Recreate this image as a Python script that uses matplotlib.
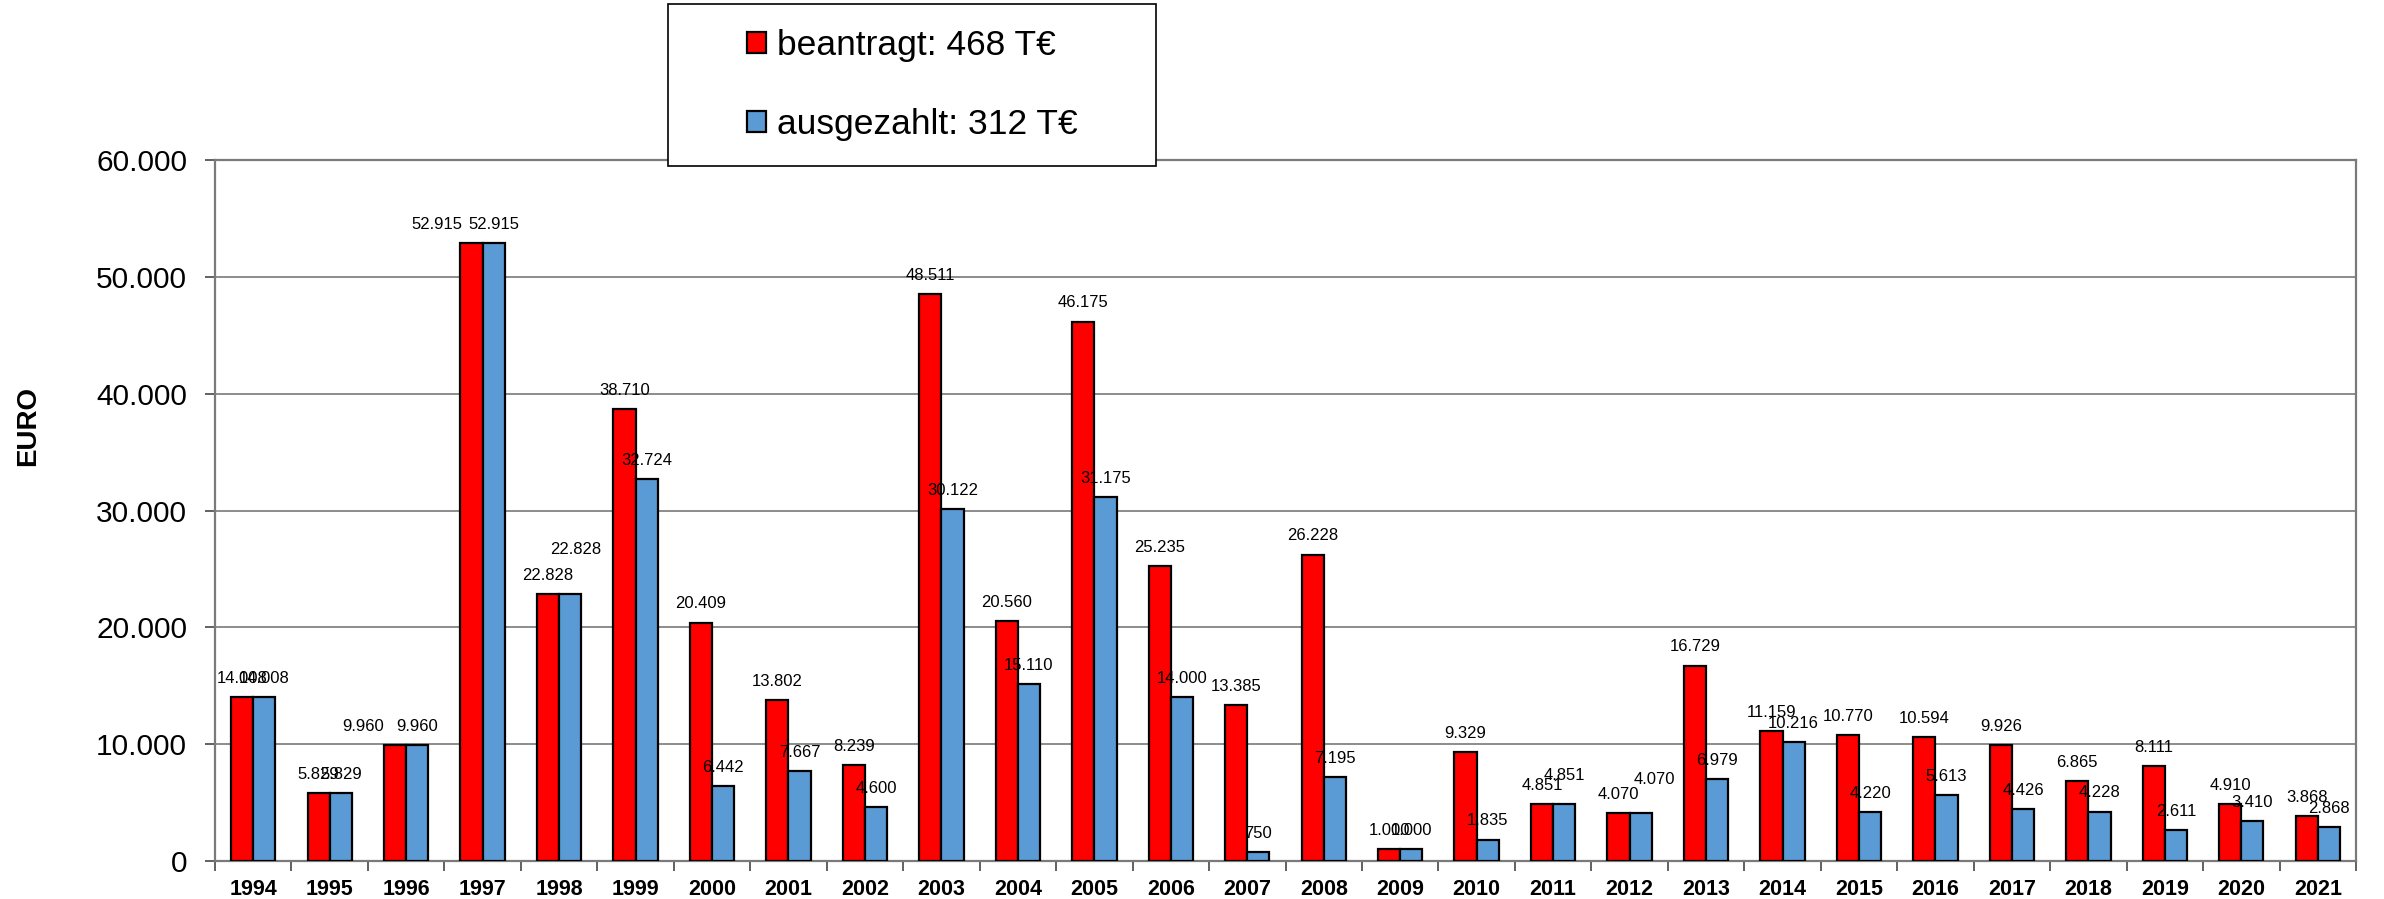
import matplotlib
matplotlib.use("Agg")
import matplotlib.pyplot as plt
from matplotlib.patches import Rectangle
import numpy as np

plt.rcParams['font.family'] = ['Liberation Sans', 'DejaVu Sans']

# data
years = ['1994', '1995', '1996', '1997', '1998', '1999', '2000', '2001', '2002', '2003',
         '2004', '2005', '2006', '2007', '2008', '2009', '2010', '2011', '2012', '2013',
         '2014', '2015', '2016', '2017', '2018', '2019', '2020', '2021']
beantragt = [14008, 5829, 9960, 52915, 22828, 38710, 20409, 13802, 8239, 48511,
             20560, 46175, 25235, 13385, 26228, 1000, 9329, 4851, 4070, 16729,
             11159, 10770, 10594, 9926, 6865, 8111, 4910, 3868]
ausgezahlt = [14008, 5829, 9960, 52915, 22828, 32724, 6442, 7667, 4600, 30122,
              15110, 31175, 14000, 750, 7195, 1000, 1835, 4851, 4070, 6979,
              10216, 4220, 5613, 4426, 4228, 2611, 3410, 2868]
legend_labels = ['beantragt: 468 T€', 'ausgezahlt: 312 T€']

# hand-moved labels in the original (year: (dx, dy) in points)
red_nudge = {'1996': (-23, 0), '1997': (-25, 0)}
blue_nudge = {'1998': (4, 19), '2011': (0, 7), '2012': (10, 11)}

RED = '#ff0000'
BLUE = '#5b9bd5'
GRID = '#6e6e6e'

def fmt(v):
    return f"{v:,}".replace(",", ".")

fig = plt.figure(figsize=(23.84, 8.99), dpi=100)
ax = fig.add_axes([215/2384, 1-861/899, 2141/2384, 701/899])

x = np.arange(len(years))
w = 0.29
b1 = ax.bar(x - w/2, beantragt, w, color=RED, edgecolor='black', linewidth=1.6, zorder=3)
b2 = ax.bar(x + w/2, ausgezahlt, w, color=BLUE, edgecolor='black', linewidth=1.6, zorder=3)

for i, yr in enumerate(years):
    dx, dy = red_nudge.get(yr, (0, 0))
    ax.annotate(fmt(beantragt[i]), (x[i] - w/2, beantragt[i]), xytext=(dx, 8 + dy),
                textcoords='offset points', ha='center', va='bottom', fontsize=12, zorder=5)
    dx, dy = blue_nudge.get(yr, (0, 0))
    ax.annotate(fmt(ausgezahlt[i]), (x[i] + w/2, ausgezahlt[i]), xytext=(dx, 8 + dy),
                textcoords='offset points', ha='center', va='bottom', fontsize=12, zorder=5)

ax.set_xlim(-0.5, len(years) - 0.5)
ax.set_ylim(0, 60000)
ax.set_yticks(np.arange(0, 60001, 10000))
ax.set_yticklabels([fmt(v) for v in range(0, 60001, 10000)], fontsize=21.5)
ax.yaxis.grid(True, color=GRID, linewidth=1.1, zorder=0)
ax.set_axisbelow(True)

ax.set_xticks(x)
ax.set_xticklabels(years, fontsize=15.5, fontweight='bold')
ax.set_xticks(np.arange(-0.5, len(years)), minor=True)
ax.tick_params(axis='x', which='major', length=0, pad=13)
ax.tick_params(axis='x', which='minor', length=7, width=1.3, color='#555555', direction='out')
ax.tick_params(axis='y', length=7, width=1.3, color='#555555', pad=13)

for s in ax.spines.values():
    s.set_color('#7a7a7a')
    s.set_linewidth(1.6)

fig.text(28/2384, 1-426/899, 'EURO', rotation=90, fontsize=20, fontweight='bold',
         ha='center', va='center')

# legend box sitting over the top of the plot
fig.patches.append(Rectangle((668/2384, 1-166/899), 488/2384, 162/899, transform=fig.transFigure,
                             facecolor='white', edgecolor='black', linewidth=1.2, zorder=10))
leg = fig.legend([b1, b2], legend_labels, loc='center', bbox_to_anchor=(912/2384, 1-85/899),
                 frameon=False, fontsize=25.5, handlelength=0.55, handleheight=0.55,
                 handletextpad=0.3, labelspacing=1.3)
leg.set_zorder(11)

fig.savefig('out.png', dpi=100)
